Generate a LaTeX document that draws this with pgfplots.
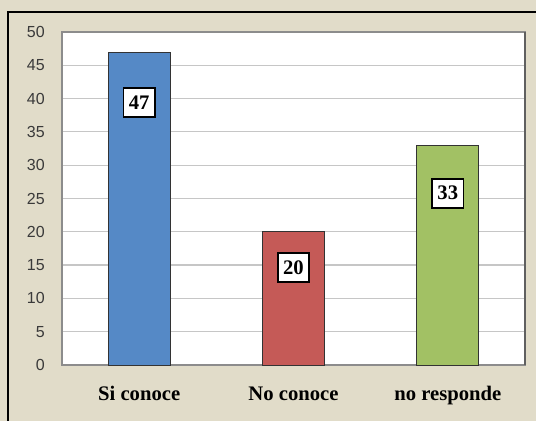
\documentclass[border=0pt]{standalone}
\usepackage{pgfplots}
\pgfplotsset{compat=1.18}
\usepackage{fontspec}
\setmainfont{Liberation Serif}
\newfontfamily\tickfont{Liberation Sans}
\definecolor{bgbeige}{HTML}{E1DCC9}
\definecolor{barblue}{HTML}{5589C6}
\definecolor{barred}{HTML}{C55A57}
\definecolor{bargreen}{HTML}{A2C164}
\definecolor{tickgray}{HTML}{3A3A3A}
\begin{document}
\begin{tikzpicture}
% chart background and outer frame (1px = 0.75pt)
\fill[bgbeige] (-46.5pt,-42pt) rectangle (355.5pt,273.75pt);
\draw[black, line width=0.9pt] (-40.5pt,-42pt) -- (-40.5pt,264.75pt) -- (355.5pt,264.75pt);
\begin{axis}[
    scale only axis,
    width=347.25pt, height=249.75pt,
    axis background/.style={fill=white},
    axis line style={draw=gray!90, line width=0.9pt},
    xmin=-0.5, xmax=2.5,
    ymin=0, ymax=50,
    ytick={0,5,...,50},
    xtick={0,1,2},
    xticklabels={Si conoce, No conoce, no responde},
    major tick length=0pt,
    ymajorgrids=true,
    grid style={draw=gray!45, line width=0.9pt},
    yticklabel style={font=\tickfont\fontsize{12}{14}\selectfont, text=tickgray, anchor=east, inner sep=0pt, xshift=-12.75pt},
    xticklabel style={font=\bfseries\fontsize{15.5}{17}\selectfont, anchor=base, inner sep=0pt, yshift=-27pt},
    /pgf/number format/assume math mode=true,
    ybar, bar width=46.5pt, bar shift=0pt,
    clip=false,
]
\addplot[draw=black!80, line width=0.7pt, fill=barblue] coordinates {(0,47)};
\addplot[draw=black!80, line width=0.7pt, fill=barred] coordinates {(1,20)};
\addplot[draw=black!80, line width=0.7pt, fill=bargreen] coordinates {(2,33)};
\draw[draw=gray!75!black, line width=1.5pt] (rel axis cs:1,0) -- (rel axis cs:1,1);
\tikzset{vlab/.style={draw=black, fill=white, line width=1.3pt, inner sep=0pt,
    minimum width=23.5pt, minimum height=21.75pt, font=\bfseries\fontsize{15.5}{17}\selectfont}}
\node[vlab] at (axis cs:0,39.4) {47};
\node[vlab] at (axis cs:1,14.6) {20};
\node[vlab] at (axis cs:2,25.8) {33};
\end{axis}
\pgfresetboundingbox
\useasboundingbox (-46.5pt,-42pt) rectangle (355.5pt,273.75pt);
\end{tikzpicture}
\end{document}
